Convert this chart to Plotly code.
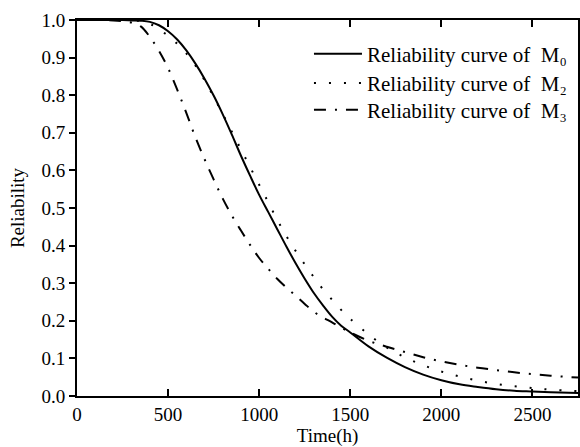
import plotly.graph_objects as go

time_h = [0, 100, 200, 250, 300, 350, 400, 450, 500, 550, 600, 650, 700, 750, 800, 850,
          900, 950, 1000, 1050, 1100, 1150, 1200, 1250, 1300, 1350, 1400, 1450, 1500,
          1600, 1700, 1800, 1900, 2000, 2100, 2200, 2300, 2400, 2500, 2600, 2750]

rel_m0 = [1.0, 1.0, 1.0, 1.0, 0.999, 0.998, 0.995, 0.986, 0.970, 0.948, 0.919, 0.884,
          0.844, 0.799, 0.749, 0.695, 0.639, 0.586, 0.535, 0.489, 0.443, 0.397, 0.353,
          0.312, 0.274, 0.241, 0.211, 0.187, 0.169, 0.132, 0.102, 0.077, 0.057, 0.042,
          0.031, 0.024, 0.018, 0.014, 0.012, 0.010, 0.008]

rel_m2 = [1.0, 1.0, 1.0, 1.0, 0.999, 0.997, 0.990, 0.975, 0.958, 0.937, 0.911, 0.879,
          0.840, 0.796, 0.750, 0.703, 0.656, 0.609, 0.562, 0.515, 0.468, 0.425, 0.386,
          0.350, 0.316, 0.284, 0.256, 0.229, 0.205, 0.164, 0.129, 0.103, 0.082, 0.065,
          0.052, 0.041, 0.032, 0.026, 0.021, 0.017, 0.013]

rel_m3 = [1.0, 1.0, 0.999, 0.997, 0.993, 0.983, 0.955, 0.918, 0.872, 0.815, 0.753, 0.688,
          0.630, 0.576, 0.525, 0.480, 0.440, 0.402, 0.367, 0.338, 0.311, 0.288, 0.267,
          0.245, 0.224, 0.209, 0.196, 0.182, 0.169, 0.147, 0.131, 0.117, 0.103, 0.092,
          0.083, 0.075, 0.069, 0.063, 0.058, 0.054, 0.049]

x_ticks = [0, 500, 1000, 1500, 2000, 2500]
y_ticks = [0.0, 0.1, 0.2, 0.3, 0.4, 0.5, 0.6, 0.7, 0.8, 0.9, 1.0]

names = ["Reliability curve of  M\u2080",
         "Reliability curve of  M\u2082",
         "Reliability curve of  M\u2083"]

FONT = "Liberation Serif"

fig = go.Figure()
fig.add_trace(go.Scatter(x=time_h, y=rel_m0, mode="lines", name=names[0], legend="legend",
                         line=dict(color="black", width=2, shape="spline", dash="solid")))
fig.add_trace(go.Scatter(x=time_h, y=rel_m2, mode="lines", name=names[1], legend="legend2",
                         line=dict(color="black", width=2, shape="spline", dash="2px,13px")))
fig.add_trace(go.Scatter(x=time_h, y=rel_m3, mode="lines", name=names[2], legend="legend3",
                         line=dict(color="black", width=2, shape="spline", dash="12px,9px,2px,9px")))

def leg(yc):
    return dict(x=0.463, y=yc, xanchor="left", yanchor="middle",
                bgcolor="rgba(0,0,0,0)", borderwidth=0,
                font=dict(family=FONT, size=21, color="black"),
                itemwidth=48, tracegroupgap=0)

fig.update_layout(
    width=580, height=447,
    margin=dict(l=77, r=2, t=20, b=51),
    paper_bgcolor="white", plot_bgcolor="white",
    font=dict(family=FONT, size=19, color="black"),
    showlegend=True,
    legend=leg(0.9095),
    legend2=leg(0.8315),
    legend3=leg(0.7605),
    xaxis=dict(range=[0, 2750], tickvals=x_ticks, ticktext=[str(v) for v in x_ticks],
               ticks="inside", ticklen=7, tickwidth=1.5, tickcolor="black",
               showline=True, linewidth=2, linecolor="black", mirror="ticks",
               showgrid=False, zeroline=False,
               title=dict(text="Time(h)", standoff=4, font=dict(size=19)),
               tickfont=dict(size=19), automargin=False),
    yaxis=dict(range=[0, 1], tickvals=y_ticks, tickformat=".1f",
               ticks="outside", ticklen=6, tickwidth=1.5, tickcolor="black",
               showline=True, linewidth=2, linecolor="black", mirror=True,
               showgrid=False, zeroline=False,
               title=dict(text="Reliability", standoff=12, font=dict(size=19)),
               tickfont=dict(size=19), automargin=False),
    yaxis2=dict(range=[0, 1], tickvals=y_ticks, overlaying="y", side="right",
                ticks="inside", ticklen=9, tickwidth=1.5, tickcolor="black",
                showticklabels=False, showline=True, linewidth=2, linecolor="black",
                showgrid=False, zeroline=False, automargin=False),
)

fig.write_html("out.html")
